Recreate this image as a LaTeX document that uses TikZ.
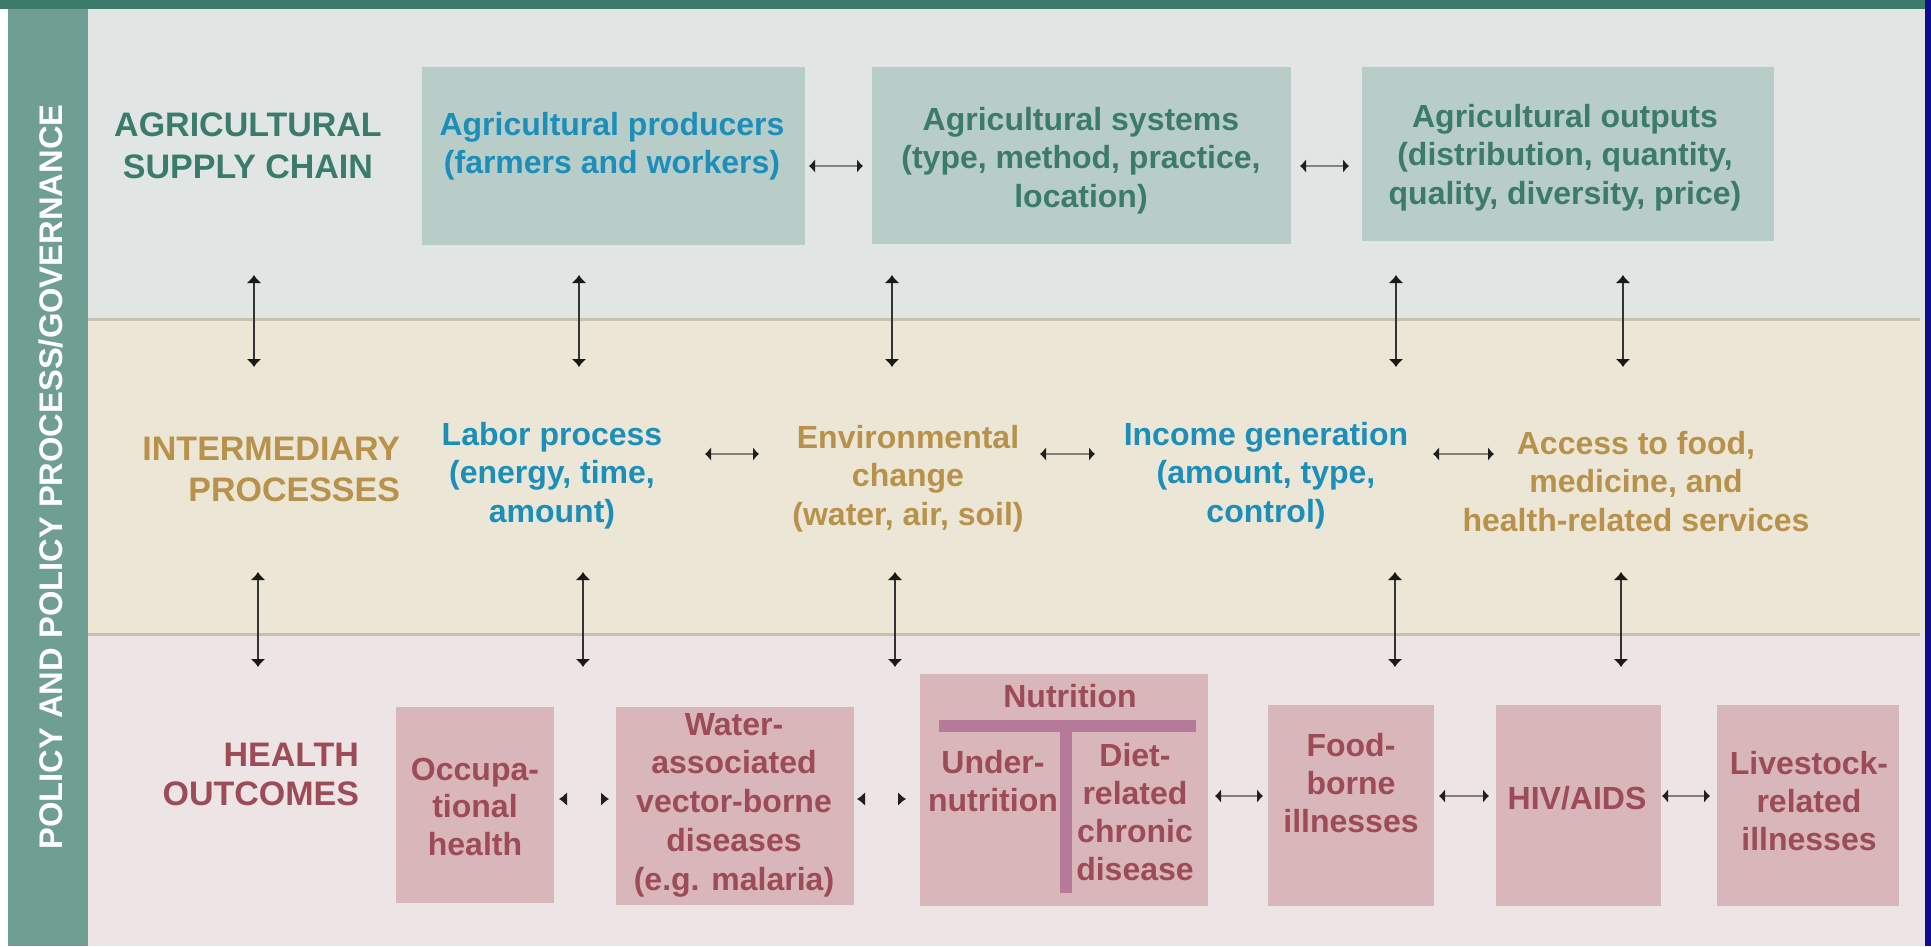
\documentclass[tikz,border=0pt]{standalone}
\usepackage{fontspec}
\setmainfont{Liberation Sans}
\usetikzlibrary{arrows.meta}
\definecolor{topbar}{HTML}{3C7A6A}
\definecolor{sidebar}{HTML}{6F9E93}
\definecolor{bandA}{HTML}{E1E6E4}
\definecolor{bandB}{HTML}{ECE6D6}
\definecolor{bandC}{HTML}{EDE4E5}
\definecolor{divline}{HTML}{C6C1B0}
\definecolor{navy}{HTML}{0E0E8A}
\definecolor{boxA}{HTML}{B9CDC8}
\definecolor{boxC}{HTML}{D8B6B9}
\definecolor{tbar}{HTML}{B47A98}
\definecolor{tcyan}{HTML}{1B8FBA}
\definecolor{tgreen}{HTML}{3B7B6B}
\definecolor{tgold}{HTML}{B8914A}
\definecolor{tred}{HTML}{9C4B57}
\definecolor{arrline}{HTML}{333333}
\definecolor{harrline}{HTML}{85817A}
\newcommand{\fsz}[2]{\fontsize{#1}{#2}\selectfont\bfseries}
\begin{document}
\begin{tikzpicture}[x=1pt,y=-1pt,
  boxa/.style={fill=boxA, draw=none, inner sep=0pt, outer sep=0pt},
  boxc/.style={fill=boxC, draw=none, inner sep=0pt, outer sep=0pt},
  body/.style={anchor=base, align=center, inner sep=0pt, outer sep=0pt, font=\fsz{32}{38.5}},
  headtxt/.style={anchor=base, inner sep=0pt, outer sep=0pt, font=\fsz{34}{42}},
  varr/.style={line width=2pt, draw=arrline, {Latex[length=8pt,width=15pt,color=black!90]}-{Latex[length=8pt,width=15pt,color=black!90]}},
  harr/.style={line width=2pt, draw=harrline, {Latex[length=6pt,width=14pt,color=black!88]}-{Latex[length=6pt,width=14pt,color=black!88]}},
  ghostarr/.style={line width=2pt, draw=bandC, {Latex[length=8pt,width=14pt,color=black!88]}-{Latex[length=8pt,width=14pt,color=black!88]}}
]
\useasboundingbox (0,0) rectangle (1931,946);
\fill[white] (0,0) rectangle (1931,946);
% bands
\fill[bandA] (88,9) rectangle (1925,319);
\fill[bandB] (88,319) rectangle (1925,634);
\fill[bandC] (88,634) rectangle (1925,946);
\fill[divline] (88,318) rectangle (1920,321);
\fill[divline] (88,633) rectangle (1920,636);
\fill[topbar] (0,0) rectangle (1925,9);
\fill[sidebar] (8,9) rectangle (88,946);
\fill[navy] (1925,0) rectangle (1931,946);

% side label
\node[rotate=90, anchor=base, inner sep=0pt, font=\fsz{32.7}{40}, text=white] (policy) at (62,477) {POLICY AND POLICY PROCESS/GOVERNANCE};

% row titles (anchor base = last line's baseline)
\node[headtxt, align=center, text=tgreen] (ttop) at (248,178) {AGRICULTURAL\\SUPPLY CHAIN};
\node[headtxt, align=right, anchor=base east, text=tgold, font=\fsz{34}{41}] (tmid) at (400,501) {INTERMEDIARY\\PROCESSES};
\node[headtxt, align=right, anchor=base east, text=tred, font=\fsz{34}{39}] (tbot) at (359,805) {HEALTH\\OUTCOMES};

% top boxes
\node[boxa, minimum width=383pt, minimum height=178pt] (prod) at (613.5,156) {};
\node[boxa, minimum width=419pt, minimum height=177pt] (sys) at (1081.5,155.5) {};
\node[boxa, minimum width=412pt, minimum height=174pt] (outp) at (1568,154) {};
\node[body, text=tcyan, font=\fsz{32}{38}] (prodt) at (612,173) {Agricultural producers\\(farmers and workers)};
\node[body, text=tgreen] (syst) at (1081,207) {Agricultural systems\\(type, method, practice,\\location)};
\node[body, text=tgreen] (outpt) at (1565,204) {Agricultural outputs\\(distribution, quantity,\\quality, diversity, price)};
\draw[harr] ([shift={(4,10)}]prod.east) -- ([shift={(-9,10.5)}]sys.west);
\draw[harr] ([shift={(9,10.5)}]sys.east) -- ([shift={(-13,12)}]outp.west);

% middle texts
\node[body, text=tcyan] (labor) at (552,522) {Labor process\\(energy, time,\\amount)};
\node[body, text=tgold] (env) at (908,525) {Environmental\\change\\(water, air, soil)};
\node[body, text=tcyan] (inc) at (1266,522) {Income generation\\(amount, type,\\control)};
\node[body, text=tgold] (acc) at (1636,531) {Access to food,\\medicine, and\\health-related services};
\coordinate (m1a) at (705,454); \coordinate (m1b) at (759,454);
\coordinate (m2a) at (1040,454); \coordinate (m2b) at (1095,454);
\coordinate (m3a) at (1433,454); \coordinate (m3b) at (1494,454);
\draw[harr] (m1a) -- (m1b);
\draw[harr] (m2a) -- (m2b);
\draw[harr] (m3a) -- (m3b);

% vertical arrows
\foreach \x [count=\i] in {254,579,892,1396,1623} {
  \coordinate (ua\i) at (\x,275); \coordinate (ub\i) at (\x,367);
  \draw[varr] (ua\i) -- (ub\i);
}
\foreach \x [count=\i] in {258,583,895,1395,1621} {
  \coordinate (la\i) at (\x,572); \coordinate (lb\i) at (\x,667);
  \draw[varr] (la\i) -- (lb\i);
}

% bottom boxes
\node[boxc, minimum width=158pt, minimum height=196pt] (occ) at (475,805) {};
\node[boxc, minimum width=238pt, minimum height=198pt] (water) at (735,806) {};
\node[boxc, minimum width=288pt, minimum height=232pt] (nutr) at (1064,790) {};
\node[boxc, minimum width=166pt, minimum height=201pt] (food) at (1351,805.5) {};
\node[boxc, minimum width=165pt, minimum height=201pt] (hiv) at (1578.5,805.5) {};
\node[boxc, minimum width=182pt, minimum height=201pt] (live) at (1808,805.5) {};
\fill[tbar] (939,720) rectangle (1196,732);
\fill[tbar] (1060,732) rectangle (1072,893);

\node[body, text=tred, font=\fsz{32}{37.5}] (occt) at (475,855) {Occupa-\\tional\\health};
\node[body, text=tred, font=\fsz{32}{38.75}] (watert) at (734,890) {Water-\\associated\\vector-borne\\diseases\\(e.g. malaria)};
\node[body, text=tred] (nutrt) at (1070,707) {Nutrition};
\node[body, text=tred, font=\fsz{32}{38}] (undert) at (993,811) {Under-\\nutrition};
\node[body, text=tred, font=\fsz{32}{38}] (dietT) at (1135,880) {Diet-\\related\\chronic\\disease};
\node[body, text=tred, font=\fsz{32}{38}] (foodt) at (1351,832) {Food-\\borne\\illnesses};
\node[body, text=tred] (hivt) at (1577,809) {HIV/AIDS};
\node[body, text=tred, font=\fsz{32}{38}] (livet) at (1809,850) {Livestock-\\related\\illnesses};

\draw[ghostarr] ([shift={(5,-6)}]occ.east) -- ([shift={(-7,-7)}]water.west);
\draw[ghostarr] ([shift={(3,-7)}]water.east) -- ([shift={(-14,9)}]nutr.west);
\draw[harr] ([shift={(7,6)}]nutr.east) -- ([shift={(-5,-9.5)}]food.west);
\draw[harr] ([shift={(5,-9.5)}]food.east) -- ([shift={(-7,-9.5)}]hiv.west);
\draw[harr] ([shift={(1,-9.5)}]hiv.east) -- ([shift={(-7,-9.5)}]live.west);
\end{tikzpicture}
\end{document}
